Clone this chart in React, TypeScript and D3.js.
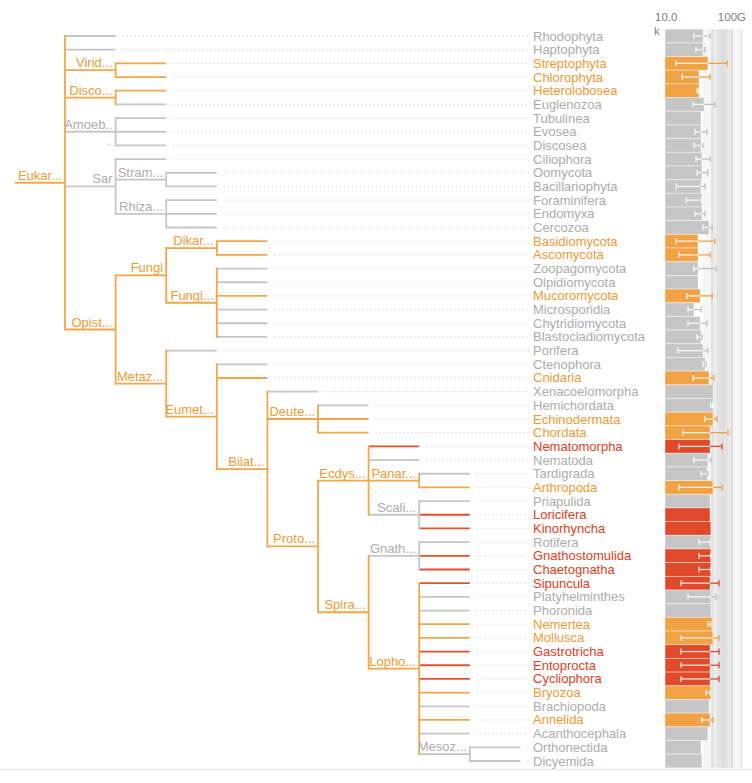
import React from "react";
import * as d3 from "d3";

const rootName = "Eukaryota";
const treeEdges: [string, string][] = [
  ["Eukaryota", "Rhodophyta"], ["Eukaryota", "Haptophyta"], ["Eukaryota", "Viridiplantae"],
  ["Eukaryota", "Discoba"], ["Eukaryota", "Amoebozoa"], ["Eukaryota", "Sar"], ["Eukaryota", "Opisthokonta"],
  ["Viridiplantae", "Streptophyta"], ["Viridiplantae", "Chlorophyta"],
  ["Discoba", "Heterolobosea"], ["Discoba", "Euglenozoa"],
  ["Amoebozoa", "Tubulinea"], ["Amoebozoa", "Evosea"], ["Amoebozoa", "Discosea"],
  ["Sar", "Ciliophora"], ["Sar", "Stramenopiles"], ["Sar", "Rhizaria"],
  ["Stramenopiles", "Oomycota"], ["Stramenopiles", "Bacillariophyta"],
  ["Rhizaria", "Foraminifera"], ["Rhizaria", "Endomyxa"], ["Rhizaria", "Cercozoa"],
  ["Opisthokonta", "Fungi"], ["Opisthokonta", "Metazoa"],
  ["Fungi", "Dikarya"], ["Fungi", "Fungi incertae sedis"],
  ["Dikarya", "Basidiomycota"], ["Dikarya", "Ascomycota"],
  ["Fungi incertae sedis", "Zoopagomycota"], ["Fungi incertae sedis", "Olpidiomycota"],
  ["Fungi incertae sedis", "Mucoromycota"], ["Fungi incertae sedis", "Microsporidia"],
  ["Fungi incertae sedis", "Chytridiomycota"], ["Fungi incertae sedis", "Blastocladiomycota"],
  ["Metazoa", "Porifera"], ["Metazoa", "Eumetazoa"],
  ["Eumetazoa", "Ctenophora"], ["Eumetazoa", "Cnidaria"], ["Eumetazoa", "Bilateria"],
  ["Bilateria", "Xenacoelomorpha"], ["Bilateria", "Deuterostomia"], ["Bilateria", "Protostomia"],
  ["Deuterostomia", "Hemichordata"], ["Deuterostomia", "Echinodermata"], ["Deuterostomia", "Chordata"],
  ["Protostomia", "Ecdysozoa"], ["Protostomia", "Spiralia"],
  ["Ecdysozoa", "Nematomorpha"], ["Ecdysozoa", "Nematoda"], ["Ecdysozoa", "Panarthropoda"], ["Ecdysozoa", "Scalidophora"],
  ["Panarthropoda", "Tardigrada"], ["Panarthropoda", "Arthropoda"],
  ["Scalidophora", "Priapulida"], ["Scalidophora", "Loricifera"], ["Scalidophora", "Kinorhyncha"],
  ["Spiralia", "Gnathifera"], ["Spiralia", "Lophotrochozoa"],
  ["Gnathifera", "Rotifera"], ["Gnathifera", "Gnathostomulida"], ["Gnathifera", "Chaetognatha"],
  ["Lophotrochozoa", "Sipuncula"], ["Lophotrochozoa", "Platyhelminthes"], ["Lophotrochozoa", "Phoronida"],
  ["Lophotrochozoa", "Nemertea"], ["Lophotrochozoa", "Mollusca"], ["Lophotrochozoa", "Gastrotricha"],
  ["Lophotrochozoa", "Entoprocta"], ["Lophotrochozoa", "Cycliophora"], ["Lophotrochozoa", "Bryozoa"],
  ["Lophotrochozoa", "Brachiopoda"], ["Lophotrochozoa", "Annelida"], ["Lophotrochozoa", "Acanthocephala"],
  ["Lophotrochozoa", "Mesozoa"],
  ["Mesozoa", "Orthonectida"], ["Mesozoa", "Dicyemida"],
];

const leafNames = [
  "Rhodophyta", "Haptophyta", "Streptophyta", "Chlorophyta", "Heterolobosea", "Euglenozoa",
  "Tubulinea", "Evosea", "Discosea", "Ciliophora", "Oomycota", "Bacillariophyta", "Foraminifera",
  "Endomyxa", "Cercozoa", "Basidiomycota", "Ascomycota", "Zoopagomycota", "Olpidiomycota",
  "Mucoromycota", "Microsporidia", "Chytridiomycota", "Blastocladiomycota", "Porifera", "Ctenophora",
  "Cnidaria", "Xenacoelomorpha", "Hemichordata", "Echinodermata", "Chordata", "Nematomorpha",
  "Nematoda", "Tardigrada", "Arthropoda", "Priapulida", "Loricifera", "Kinorhyncha", "Rotifera",
  "Gnathostomulida", "Chaetognatha", "Sipuncula", "Platyhelminthes", "Phoronida", "Nemertea",
  "Mollusca", "Gastrotricha", "Entoprocta", "Cycliophora", "Bryozoa", "Brachiopoda", "Annelida",
  "Acanthocephala", "Orthonectida", "Dicyemida",
];
// g = gray, o = orange, r = red
const leafStatus = [
  "g", "g", "o", "o", "o", "g",
  "g", "g", "g", "g", "g", "g", "g",
  "g", "g", "o", "o", "g", "g",
  "o", "g", "g", "g", "g", "g",
  "o", "g", "g", "o", "o", "r",
  "g", "g", "o", "g", "r", "r", "g",
  "r", "r", "r", "g", "g", "o",
  "o", "r", "r", "r", "o", "g", "o",
  "g", "g", "g",
];
const barValues = [
  3.5e7, 3.5e7, 1.0e8, 1.5e7, 1.5e7, 4.4e7,
  2.3e7, 2.3e7, 2.3e7, 2.8e7, 2.8e7, 2.3e7, 2.8e7,
  2.8e7, 1.3e8, 1.2e7, 1.2e7, 1.2e7, 1.2e7,
  1.9e7, 5.1e6, 1.9e7, 2.3e7, 3.5e7, 5.4e7,
  1.3e8, 3.0e8, 3.0e8, 3.0e8, 1.6e8, 1.6e8,
  1.0e8, 8.3e7, 3.0e8, 1.6e8, 1.6e8, 1.9e8, 1.9e8,
  1.9e8, 1.9e8, 1.6e8, 1.9e8, 1.9e8, 2.5e8,
  3.0e8, 1.6e8, 1.6e8, 1.6e8, 1.9e8, 1.3e8, 1.6e8,
  1.0e8, 2.3e7, 2.8e7,
];
const errLow: (number | null)[] = [
  5.1e6, 7.8e6, 1.1e5, 3.9e5, 9.8e6, 4.1e6,
  null, 6.3e6, 5.1e6, 7.8e6, 9.8e6, 1.1e5, 9.1e5,
  6.3e6, 3.5e7, 1.1e5, 2.0e5, 5.1e6, null,
  1.1e6, 1.4e6, 1.4e6, 9.8e6, 1.6e5, 3.5e7,
  4.1e6, null, 1.9e8, 5.4e7, 4.8e5, 2.0e5,
  5.1e6, 2.3e7, 2.0e5, null, null, null, 1.5e7,
  1.5e7, 1.5e7, 3.1e5, 1.4e6, null, 1.0e8,
  3.1e5, 3.1e5, 3.1e5, 3.1e5, 6.7e7, null, 2.8e7,
  null, null, null,
];
const errHigh: (number | null)[] = [
  1.6e8, 5.4e7, 6.2e9, 1.6e8, 1.5e7, 4.7e8,
  null, 8.3e7, 3.5e7, 1.6e8, 1.0e8, 5.4e7, 2.8e7,
  5.4e7, 2.5e8, 4.7e8, 1.6e8, 5.8e8, null,
  2.5e8, 2.3e7, 8.3e7, 2.8e7, 1.0e8, 6.7e7,
  3.7e8, null, 3.0e8, 7.1e8, 7.6e9, 2.1e9,
  1.9e8, 1.0e8, 2.1e9, null, null, null, 1.6e8,
  1.9e8, 1.9e8, 1.1e9, 5.8e8, null, 1.9e8,
  1.1e9, 1.1e9, 1.1e9, 1.1e9, 1.6e8, null, 3.0e8,
  null, null, null,
];
const axisDomain = [1e4, 1e11];

const COLORS: Record<string, { line: string; text: string; bar: string; err: string }> = {
  g: { line: "#c6c6c6", text: "#acacac", bar: "#c6c6c6", err: "#c0c0c0" },
  o: { line: "#f4a64a", text: "#f09a33", bar: "#f1a244", err: "#f1a244" },
  r: { line: "#e4502e", text: "#e0401c", bar: "#e0492a", err: "#e0492a" },
};

const FONT = "'Liberation Sans', Arial, Helvetica, sans-serif";
const FS = 13;

function truncate(name: string) {
  return name.length > 5 ? name.slice(0, 5) + "..." : name;
}

export default function App() {
  const rows = [{ id: rootName, parentId: null as string | null }].concat(
    treeEdges.map(([p, c]) => ({ id: c, parentId: p }))
  );
  const root = d3.stratify<{ id: string; parentId: string | null }>()
    .id((d) => d.id)
    .parentId((d) => d.parentId)(rows);

  const leafIndex = new Map(leafNames.map((n, i) => [n, i]));
  const rowY = d3.scaleLinear().domain([0, leafNames.length - 1]).range([36, 761]);
  const depthX = d3.scaleLinear().domain([0, 9]).range([65, 520.4]);
  const xs = d3.scaleLog().domain(axisDomain).range([665, 740]);
  const rowH = rowY(1) - rowY(0);

  const pos = new Map<string, number>();
  const status = new Map<string, string>();
  root.eachAfter((n: any) => {
    if (n.children) {
      const f = pos.get(n.children[0].id)!;
      const l = pos.get(n.children[n.children.length - 1].id)!;
      pos.set(n.id, (f + l) / 2);
      status.set(n.id, n.leaves().some((lf: any) => leafStatus[leafIndex.get(lf.id)!] === "o") ? "o" : "g");
    } else {
      const i = leafIndex.get(n.id)!;
      pos.set(n.id, rowY(i));
      status.set(n.id, leafStatus[i]);
    }
  });

  const nodes = root.descendants();
  const horiz: React.ReactNode[] = [];
  const vert: React.ReactNode[] = [];
  const labels: React.ReactNode[] = [];

  nodes.forEach((n: any) => {
    const y = pos.get(n.id)!;
    const st = status.get(n.id)!;
    const c = COLORS[st];
    const x1 = n.parent ? depthX(n.parent.depth) : 15;
    const x2 = depthX(n.depth);
    horiz.push(<line key={"h" + n.id} x1={x1} x2={x2} y1={y} y2={y} stroke={c.line} strokeWidth={1.8} />);
    if (n.children) {
      const f = pos.get(n.children[0].id)!;
      const l = pos.get(n.children[n.children.length - 1].id)!;
      vert.push(<line key={"v" + n.id} x1={x2} x2={x2} y1={f - 0.9} y2={l + 0.9} stroke={c.line} strokeWidth={1.8} />);
      if (n.id === "Amoebozoa") {
        labels.push(
          <g key={"l" + n.id}>
            <text x={x2 - 3} y={y - 3} textAnchor="end" fill={c.text} fontSize={FS}>Amoeb..</text>
            <text x={x2 - 5} y={y + 13} textAnchor="end" fill={c.text} fontSize={FS}>.</text>
          </g>
        );
      } else {
        labels.push(
          <text key={"l" + n.id} x={x2 - 3} y={y - 3} textAnchor="end" fill={c.text} fontSize={FS}>
            {truncate(n.id)}
          </text>
        );
      }
    } else {
      labels.push(
        <line key={"d" + n.id} x1={x2 + 7} x2={529} y1={y} y2={y} stroke="#c8c8c8" strokeWidth={1} strokeDasharray="1 3" />
      );
      labels.push(
        <text key={"t" + n.id} x={533} y={y + 4.5} fill={c.text} fontSize={FS}>{n.id}</text>
      );
    }
  });

  const x0 = xs(axisDomain[0]);
  const top = rowY(0) - rowH / 2;
  const bottom = rowY(leafNames.length - 1) + rowH / 2;

  const bars = leafNames.map((name, i) => {
    const y = rowY(i);
    const c = COLORS[leafStatus[i]];
    const xe = xs(barValues[i]);
    const lo = errLow[i];
    const hi = errHigh[i];
    const parts: React.ReactNode[] = [
      <rect key="b" x={x0} y={y - rowH / 2} width={xe - x0} height={rowH} fill={c.bar} stroke="#ffffff" strokeOpacity={0.5} strokeWidth={0.8} />,
    ];
    if (lo != null && hi != null) {
      const xl = xs(lo);
      const xh = xs(hi);
      const inner = "#ffffff";
      const capC = (x: number) => (x <= xe ? inner : c.err);
      if (xh > xe) {
        parts.push(<line key="eo" x1={Math.max(xl, xe)} x2={xh} y1={y} y2={y} stroke={c.err} strokeWidth={1.3} />);
      }
      if (xl < xe) {
        parts.push(<line key="ei" x1={xl} x2={Math.min(xh, xe)} y1={y} y2={y} stroke={inner} strokeOpacity={0.85} strokeWidth={1.3} />);
      }
      parts.push(<line key="cl" x1={xl} x2={xl} y1={y - 3} y2={y + 3} stroke={capC(xl)} strokeOpacity={xl <= xe ? 0.85 : 1} strokeWidth={1.3} />);
      parts.push(<line key="ch" x1={xh} x2={xh} y1={y - 3} y2={y + 3} stroke={capC(xh)} strokeOpacity={xh <= xe ? 0.85 : 1} strokeWidth={1.3} />);
    }
    return <g key={name}>{parts}</g>;
  });

  const fmt = d3.format(".3s");
  const lowLab = fmt(axisDomain[0]);
  const highLab = fmt(axisDomain[1]);

  return (
    <svg width={752} height={783} style={{ position: "absolute", left: 0, top: 0, background: "#fff" }} fontFamily={FONT}>
      <line x1={0} x2={752} y1={bottom + 2} y2={bottom + 2} stroke="#f0f0f0" strokeWidth={2} />
      {/* background bands */}
      <rect x={703} y={top} width={40} height={bottom - top} fill="#000" fillOpacity={0.035} />
      <rect x={712} y={top} width={21} height={bottom - top} fill="#000" fillOpacity={0.045} />
      <rect x={717} y={top} width={11} height={bottom - top} fill="#000" fillOpacity={0.035} />
      <line x1={712} x2={712} y1={top} y2={bottom} stroke="#d0d0d0" strokeWidth={1} />
      <line x1={723} x2={723} y1={top} y2={bottom} stroke="#d6d6d6" strokeWidth={1} />
      <line x1={732} x2={732} y1={top} y2={bottom} stroke="#d0d0d0" strokeWidth={1} />
      <line x1={741} x2={741} y1={top} y2={bottom} stroke="#e0e0e0" strokeWidth={1} />
      {bars}
      <text x={655} y={21} fontSize={11.5} fill="#808080">{lowLab.slice(0, -1)}</text>
      <text x={654} y={35} fontSize={11.5} fill="#808080">{lowLab.slice(-1)}</text>
      <text x={746} y={21} fontSize={11.5} fill="#808080" textAnchor="end">{highLab}</text>
      {horiz}
      {vert}
      {labels}
    </svg>
  );
}
